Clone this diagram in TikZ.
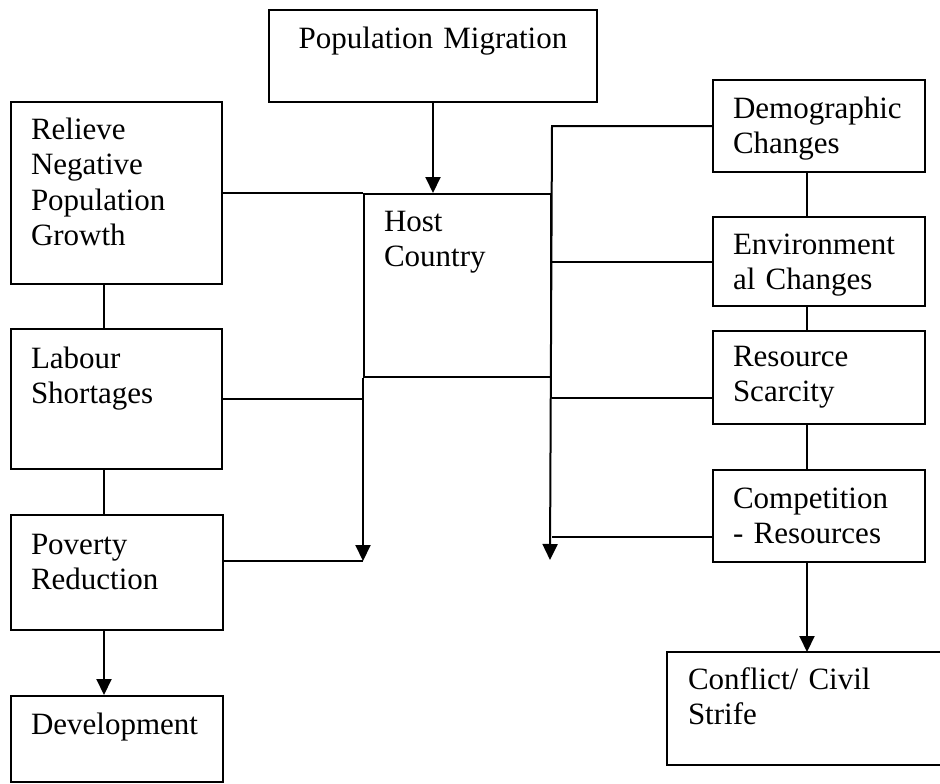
\documentclass[tikz,border=0pt]{standalone}
\usepackage{fontspec}
\setmainfont{Liberation Serif}
\usetikzlibrary{arrows.meta}
\tikzset{
  box/.style={draw, line width=2pt, anchor=north west, inner xsep=20pt, inner ysep=0pt,
    align=left, font=\fontsize{31}{35.5}\selectfont},
  openbox/.style={box, draw=none},
  conn/.style={line width=2pt},
  arr/.style={conn, -{Triangle[width=15pt,length=16pt]}}
}
\begin{document}
\begin{tikzpicture}[x=1pt,y=-1pt]
\useasboundingbox (0,0) rectangle (940,784);
% boxes
\node[box, align=center, minimum width=328pt, minimum height=92pt, text width=288pt, text height=39pt, text depth=53pt] (pm) at (268,9) {Population Migration};
\node[box, minimum width=211pt, minimum height=182pt, text width=171pt, text height=37pt, text depth=145pt] (relieve) at (10,101) {Relieve\\Negative\\Population\\Growth};
\node[box, minimum width=211pt, minimum height=140pt, text width=171pt, text height=39pt, text depth=101pt] (labour) at (10,328) {Labour\\Shortages};
\node[box, minimum width=212pt, minimum height=115pt, text width=172pt, text height=39pt, text depth=76pt] (poverty) at (10,514) {Poverty\\Reduction};
\node[box, minimum width=212pt, minimum height=86pt, text width=172pt, text height=38pt, text depth=48pt] (dev) at (10,695) {Development};
\node[box, minimum width=187pt, minimum height=183pt, text width=147pt, text height=37pt, text depth=146pt] (host) at (363,193) {Host\\Country};
\node[box, minimum width=212pt, minimum height=92pt, text width=172pt, text height=38pt, text depth=54pt] (demo) at (712,79) {Demographic\\Changes};
\node[box, minimum width=212pt, minimum height=89pt, text width=172pt, text height=37pt, text depth=52pt] (env) at (712,216) {Environment\\al Changes};
\node[box, minimum width=212pt, minimum height=93pt, text width=172pt, text height=35pt, text depth=58pt] (res) at (712,330) {Resource\\Scarcity};
\node[box, minimum width=212pt, minimum height=92pt, text width=172pt, text height=38pt, text depth=54pt] (comp) at (712,469) {Competition\\- Resources};
\node[openbox, minimum width=275pt, minimum height=111pt, text width=235pt, text height=36pt, text depth=75pt] (conflict) at (667,652) {Conflict/ Civil\\Strife};
\draw[conn] (conflict.north east) -- (conflict.north west) -- (conflict.south west) -- (conflict.south east);
% helper coordinates
\coordinate (lcx) at (104,0);
\coordinate (rcx) at (807,0);
\coordinate (larr) at (363,561);
\coordinate (rarr) at (550,560);
\coordinate (resy) at (0,398);
\coordinate (compy) at (0,537);
% connectors
\draw[arr] (pm.south) -- (pm.south |- host.north);
\draw[conn] (relieve.east |- host.north) -- (host.north west);
\draw[conn] (labour.east) -- (labour.east -| host.west);
\draw[arr] (host.south west) -- (larr);
\draw[conn] (poverty.east |- larr) -- (larr);
\draw[arr] (demo.west) -- (demo.west -| host.east) -- (rarr);
\draw[conn] (env.west) -- (env.west -| host.east);
\draw[conn] (res.west |- resy) -- (host.east |- resy);
\draw[conn] (comp.west |- compy) -- (host.east |- compy);
\draw[conn] (relieve.south -| lcx) -- (labour.north -| lcx);
\draw[conn] (labour.south -| lcx) -- (poverty.north -| lcx);
\draw[arr] (poverty.south -| lcx) -- (dev.north -| lcx);
\draw[conn] (demo.south -| rcx) -- (env.north -| rcx);
\draw[conn] (env.south -| rcx) -- (res.north -| rcx);
\draw[conn] (res.south -| rcx) -- (comp.north -| rcx);
\draw[arr] (comp.south -| rcx) -- (conflict.north -| rcx);
\end{tikzpicture}
\end{document}
